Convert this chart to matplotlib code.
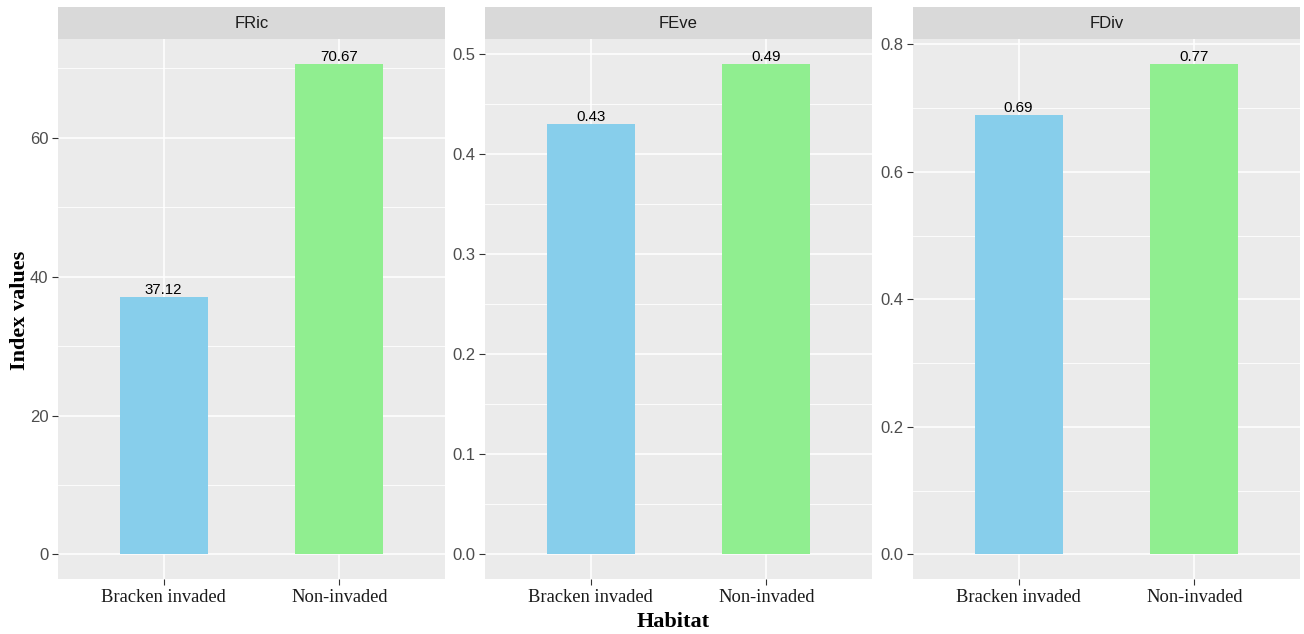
import matplotlib.pyplot as plt
import numpy as np

habitats = ['Bracken invaded', 'Non-invaded']
indices = ['FRic', 'FEve', 'FDiv']
values = {
    'FRic': [37.12, 70.67],
    'FEve': [0.43, 0.49],
    'FDiv': [0.69, 0.77],
}
major_ticks = {
    'FRic': [0, 20, 40, 60],
    'FEve': [0.0, 0.1, 0.2, 0.3, 0.4, 0.5],
    'FDiv': [0.0, 0.2, 0.4, 0.6, 0.8],
}
tick_fmt = {'FRic': '{:.0f}', 'FEve': '{:.1f}', 'FDiv': '{:.1f}'}
bar_colors = ['#87CEEB', '#90EE90']

W, H = 1304, 634
fig = plt.figure(figsize=(W / 100, H / 100), dpi=100)

# panel boxes in pixels: left, right ; plot top / bottom ; strip top
panels = [(58, 445), (485, 872), (913, 1300)]
strip_top, plot_top, plot_bottom = 7, 39, 579

serif = ['Liberation Serif', 'DejaVu Serif']
sans = ['Liberation Sans', 'DejaVu Sans']
x = np.arange(1, len(habitats) + 1)

for (left, right), key in zip(panels, indices):
    ax = fig.add_axes([left / W, 1 - plot_bottom / H,
                       (right - left) / W, (plot_bottom - plot_top) / H])
    ax.set_facecolor('#EBEBEB')
    vals = values[key]
    top = max(vals)
    ax.set_ylim(-0.05 * top, 1.05 * top)
    ax.set_xlim(0.4, 2.6)

    majors = major_ticks[key]
    step = majors[1] - majors[0]
    minors = [m + step / 2 for m in majors]
    for m in minors:
        ax.axhline(m, color='white', lw=0.6, zorder=0)
    for m in majors:
        ax.axhline(m, color='white', lw=1.1, zorder=0)
    for xi in x:
        ax.axvline(xi, color='white', lw=1.1, zorder=0)

    ax.bar(x, vals, width=0.5, color=bar_colors, zorder=2)
    for xi, v in zip(x, vals):
        ax.text(xi, v, '{:.2f}'.format(v), ha='center', va='bottom',
                fontsize=10.8, color='black', family=sans, zorder=3)

    ax.set_yticks(majors)
    ax.set_yticklabels([tick_fmt[key].format(m) for m in majors],
                       fontsize=12, color='#4D4D4D', family=sans)
    ax.set_xticks(x)
    ax.set_xticklabels(habitats, fontsize=13.3, color='#1A1A1A', family=serif)
    ax.tick_params(axis='both', length=4, width=0.8, color='#333333')
    ax.tick_params(axis='y', pad=3)
    for s in ax.spines.values():
        s.set_visible(False)

    # facet strip
    sax = fig.add_axes([left / W, 1 - plot_top / H,
                        (right - left) / W, (plot_top - strip_top) / H])
    sax.set_facecolor('#D9D9D9')
    sax.set_xticks([])
    sax.set_yticks([])
    for s in sax.spines.values():
        s.set_visible(False)
    sax.text(0.5, 0.5, key, ha='center', va='center', fontsize=12,
             color='#1A1A1A', family=sans, transform=sax.transAxes)

fig.text(20 / W, 1 - 310 / H, 'Index values', rotation=90, ha='center',
         va='center', fontsize=16, fontweight='bold', family=serif)
fig.text(673 / W, 1 - 622 / H, 'Habitat', ha='center', va='center',
         fontsize=16, fontweight='bold', family=serif)

fig.savefig('out.png', dpi=100, facecolor='white')
